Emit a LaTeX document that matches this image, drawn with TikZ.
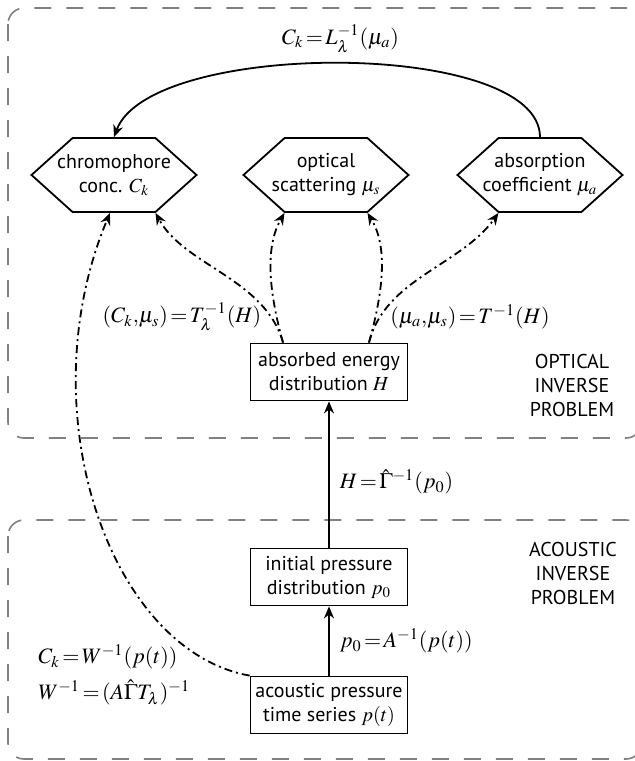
\documentclass[tikz,border=0pt]{standalone}
\usepackage{mathptmx}
\usepackage[no-math]{fontspec}
\setmainfont{PT Sans}
\usepackage{tikz}
\usetikzlibrary{arrows.meta,shapes.symbols}

\tikzset{
  stage/.style={draw, line width=0.9pt, minimum width=78.5pt, minimum height=28.5pt, align=center, inner sep=1pt},
  quantity/.style={draw, line width=0.9pt, shape=signal, signal to=west and east, signal pointer angle=84, minimum width=82.5pt, minimum height=37pt, inner sep=0pt},
  region/.style={draw=gray, line width=0.8pt, dash pattern=on 8.5pt off 7.5pt, rounded corners=8pt},
  inv/.style={line width=0.9pt, -{Stealth[length=6pt,width=5pt]}},
  dashinv/.style={inv, dash pattern=on 4pt off 2pt on 1pt off 2pt},
  eq/.style={font=\fontsize{11}{14}\selectfont, inner sep=1pt},
}

\begin{document}
\begin{tikzpicture}[x=0.5pt, y=-0.5pt]
  \useasboundingbox (0,0) rectangle (635,761);

  \draw[region] (8,8) rectangle (642,438);
  \draw[region] (8,520) rectangle (642,759);
  \draw (572,385) node[align=center] (optlabel) {OPTICAL\\INVERSE\\PROBLEM};
  \draw (573,573) node[align=center] (acolabel) {ACOUSTIC\\INVERSE\\PROBLEM};

  \draw (114,175) node[quantity, label={[align=center]center:chromophore\\conc. $C_k$}] (chrom) {};
  \draw (326,175) node[quantity, label={[align=center]center:optical\\scattering $\mu_s$}] (scat) {};
  \draw (540,175) node[quantity, label={[align=center]center:absorption\\coefficient $\mu_a$}] (absorb) {};

  \draw (329,372) node[stage] (energy) {absorbed energy\\distribution $H$};
  \draw (329,577) node[stage] (initial) {initial pressure\\distribution $p_0$};
  \draw (329,705) node[stage] (acoustic) {acoustic pressure\\time series $p(t)$};

    \path[inv] (acoustic) edge node[eq, right=4pt] {$p_0\!=\!A^{-1}(p(t))$} (initial);
    \path[inv] (initial) edge node[eq, right=4pt, pos=0.45] {$H\!=\!\hat{\Gamma}^{-1}(p_0)$} (energy);

    \draw[inv] (absorb.north) .. controls +(0,-98) and +(36,-98) .. (chrom.north)
      node[eq, midway, above=4pt] {$C_k\!=\!L_\lambda^{-1}(\mu_a)$};

    \draw[dashinv] ([xshift=-23pt]energy.north) .. controls +(-18,-64) and +(29,53) .. ([xshift=20.75pt]chrom.south);
    \draw[dashinv] ([xshift=-23pt]energy.north) .. controls +(-15,-54) and +(-19,33) .. ([xshift=-20.75pt]scat.south);
    \draw[dashinv] ([xshift=20pt]energy.north) .. controls +(15,-54) and +(20,33) .. ([xshift=20.75pt]scat.south);
    \draw[dashinv] ([xshift=20pt]energy.north) .. controls +(16,-64) and +(-38,53) .. ([xshift=-20.75pt]absorb.south);
    \draw[dashinv] (acoustic.north west) .. controls +(-140,-25) and +(-83,198) .. ([xshift=-2pt]chrom.south);

  \draw (182,317) node[eq] (tlambda) {$(C_k{,}\mu_s)\!=\!T_\lambda^{-1}(H)$};
  \draw (470,317) node[eq] (tplain) {$(\mu_a{,}\mu_s)\!=\!T^{-1}(H)$};
  \draw (36,675) node[eq, anchor=west, align=left] (wlabel) {$C_k\!=\!W^{-1}(p(t))$\\[4pt]$W^{-1}\!=\!(A\hat{\Gamma}T_\lambda)^{-1}$};

\end{tikzpicture}
\end{document}
